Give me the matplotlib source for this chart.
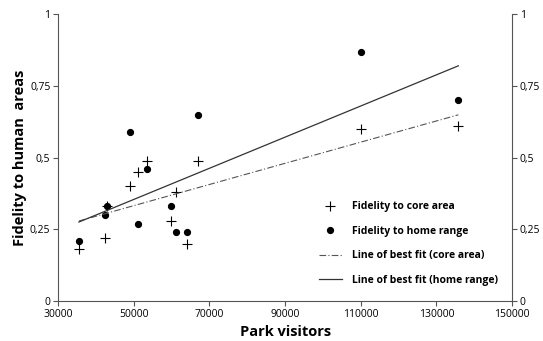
import matplotlib.pyplot as plt
import numpy as np

# park visitors per site, fidelity values
visitors = [35500, 42400, 43000, 49000, 51000, 53500, 59900, 61200, 64100, 67000, 110000, 135800]
core_area = [0.18, 0.22, 0.33, 0.40, 0.45, 0.49, 0.28, 0.38, 0.20, 0.49, 0.60, 0.61]
home_range = [0.21, 0.30, 0.33, 0.59, 0.27, 0.46, 0.33, 0.24, 0.24, 0.65, 0.87, 0.70]

y_ticks = [0, 0.25, 0.5, 0.75, 1]
y_ticklabels = ['0', '0,25', '0,5', '0,75', '1']
x_ticks = [30000, 50000, 70000, 90000, 110000, 130000, 150000]

plt.rcParams['font.family'] = ['Open Sans', 'DejaVu Sans']

fig = plt.figure(figsize=(5.43, 3.41), dpi=100)
ax = fig.add_axes([0.107, 0.117, 0.836, 0.841])

x = np.array(visitors, dtype=float)
xs = np.array([x.min(), x.max()])
core_fit = np.polyfit(x, core_area, 1)
home_fit = np.polyfit(x, home_range, 1)

ax.plot(x, core_area, linestyle='none', marker='+', markersize=7,
        markeredgewidth=0.8, color='black', label='Fidelity to core area')
ax.plot(x, home_range, linestyle='none', marker='o', markersize=4.2,
        color='black', label='Fidelity to home range')
ax.plot(xs, np.polyval(core_fit, xs), linestyle=(0, (6, 2, 1, 2)),
        linewidth=0.8, color='#555555', label='Line of best fit (core area)')
ax.plot(xs, np.polyval(home_fit, xs), linestyle='-', linewidth=0.9,
        color='#333333', label='Line of best fit (home range)')

ax.set_xlim(30000, 150000)
ax.set_ylim(0, 1)
ax.set_xticks(x_ticks)
ax.set_yticks(y_ticks)
ax.set_yticklabels(y_ticklabels)
ax.spines['top'].set_visible(False)
for s in ['left', 'right', 'bottom']:
    ax.spines[s].set_color('#555555')
    ax.spines[s].set_linewidth(0.8)
ax.tick_params(axis='both', direction='out', length=3.5, width=0.8,
               color='#555555', labelsize=7.5, pad=2)
ax.tick_params(axis='y', right=True, labelright=True)

ax.set_xlabel('Park visitors', fontsize=10.5, fontweight='bold', labelpad=4)
ax.set_ylabel('Fidelity to human  areas', fontsize=10.5, fontweight='bold', labelpad=2)

leg = ax.legend(loc='lower right', bbox_to_anchor=(0.99, 0.02), frameon=False,
                prop={'size': 7.5, 'weight': 'bold'}, handlelength=2.2,
                labelspacing=1.3, handletextpad=1.0)

fig.savefig('out.png', dpi=100)
